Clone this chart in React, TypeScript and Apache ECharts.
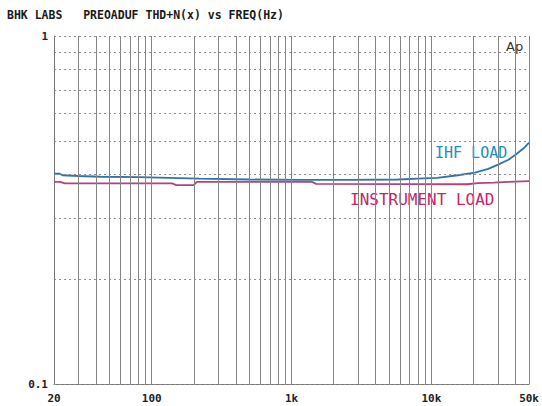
import React, { useEffect, useRef } from "react";
import * as echarts from "echarts";

const TITLE = "BHK LABS   PREOADUF THD+N(x) vs FREQ(Hz)";
const IHF_LABEL = "IHF LOAD";
const INST_LABEL = "INSTRUMENT LOAD";

const IHF_FREQ = [20, 22, 23, 30, 43, 82, 113, 218, 500, 1130, 2550, 5800, 8000, 11000, 15500, 20500, 25500, 30000, 35600, 40000, 45500, 50000];
const IHF_THD = [0.402, 0.402, 0.398, 0.396, 0.394, 0.393, 0.392, 0.389, 0.387, 0.386, 0.386, 0.387, 0.389, 0.391, 0.398, 0.405, 0.415, 0.427, 0.441, 0.456, 0.475, 0.494];

const INST_FREQ = [20, 22, 24, 140, 150, 200, 210, 1400, 1500, 18000, 21500, 28000, 35600, 50000];
const INST_THD = [0.381, 0.381, 0.377, 0.377, 0.373, 0.373, 0.381, 0.381, 0.376, 0.375, 0.378, 0.379, 0.381, 0.383];

const GRID_FREQS = [30, 40, 50, 60, 70, 80, 90, 100, 200, 300, 400, 500, 600, 700, 800, 900, 1000, 2000, 3000, 4000, 5000, 6000, 7000, 8000, 9000, 10000, 20000, 30000, 40000, 50000];
const GRID_LEVELS = [0.1, 0.2, 0.3, 0.4, 0.5, 0.6, 0.7, 0.8, 0.9, 1];

const X_MIN = 20;
const X_MAX = 50000;
const Y_MIN = 0.1;
const Y_MAX = 1;

function fmtFreq(v: number): string {
  const r = Math.round(v);
  if (r >= 1000) return Math.round(r / 1000) + "k";
  return String(r);
}

export default function App() {
  const ref = useRef<HTMLDivElement>(null);
  useEffect(() => {
    if (!ref.current) return;
    const chart = echarts.init(ref.current, null, { renderer: "svg" });
    const mono = "DejaVu Sans Mono";
    chart.setOption({
      animation: false,
      backgroundColor: "#ffffff",
      grid: { left: 54, right: 11, top: 36, bottom: 22 },
      xAxis: {
        type: "log",
        logBase: 10,
        min: X_MIN,
        max: X_MAX,
        axisLine: { show: true, lineStyle: { color: "#777", width: 1 } },
        axisTick: { show: false },
        splitLine: { show: false },
        axisLabel: {
          showMinLabel: true,
          showMaxLabel: true,
          formatter: (v: number) => fmtFreq(v),
          color: "#222",
          fontFamily: mono,
          fontWeight: "bold",
          fontSize: 11,
          margin: 9,
        },
      },
      yAxis: {
        type: "log",
        logBase: 10,
        min: Y_MIN,
        max: Y_MAX,
        axisLine: { show: true, lineStyle: { color: "#777", width: 1 } },
        axisTick: { show: false },
        splitLine: { show: false },
        axisLabel: {
          showMinLabel: true,
          showMaxLabel: true,
          formatter: (v: number) => (v >= 0.99 ? "1" : "0.1"),
          color: "#222",
          fontFamily: mono,
          fontWeight: "bold",
          fontSize: 11,
          margin: 6,
        },
      },
      series: [
        {
          type: "line",
          data: [],
          silent: true,
          markLine: {
            silent: true,
            symbol: "none",
            label: { show: false },
            lineStyle: { color: "#858585", width: 1, type: "solid" },
            data: GRID_FREQS.map((f) => ({ xAxis: f })),
          },
        },
        {
          type: "line",
          data: [],
          silent: true,
          markLine: {
            silent: true,
            symbol: "none",
            label: { show: false },
            lineStyle: { color: "#8c8c8c", width: 1, type: [2, 3] },
            data: GRID_LEVELS.map((v) => ({ yAxis: v })),
          },
        },
        {
          name: IHF_LABEL,
          type: "line",
          showSymbol: false,
          data: IHF_FREQ.map((f, i) => [f, IHF_THD[i]]),
          lineStyle: { color: "#2f74a8", width: 1.8 },
          itemStyle: { color: "#2f74a8" },
        },
        {
          name: INST_LABEL,
          type: "line",
          showSymbol: false,
          data: INST_FREQ.map((f, i) => [f, INST_THD[i]]),
          lineStyle: { color: "#b8407e", width: 1.8 },
          itemStyle: { color: "#b8407e" },
        },
      ],
      graphic: [
        {
          type: "text",
          left: 7,
          top: 9,
          style: { text: TITLE, fill: "#1a1a1a", font: `bold 11.5px "${mono}"` },
        },
        {
          type: "text",
          x: 435,
          y: 153,
          style: { text: IHF_LABEL, fill: "#1d8fbe", font: `15px "${mono}"`, verticalAlign: "middle" },
        },
        {
          type: "text",
          x: 350,
          y: 199,
          style: { text: INST_LABEL, fill: "#c8246a", font: `16px "${mono}"`, verticalAlign: "middle" },
        },
        {
          type: "text",
          x: 506,
          y: 46,
          style: { text: "Ap", fill: "#333", font: `13px "DejaVu Sans"`, verticalAlign: "middle" },
        },
      ],
    });
    return () => chart.dispose();
  }, []);
  return (
    <div
      ref={ref}
      style={{ position: "absolute", left: 0, top: 0, width: 542, height: 406 }}
    />
  );
}
